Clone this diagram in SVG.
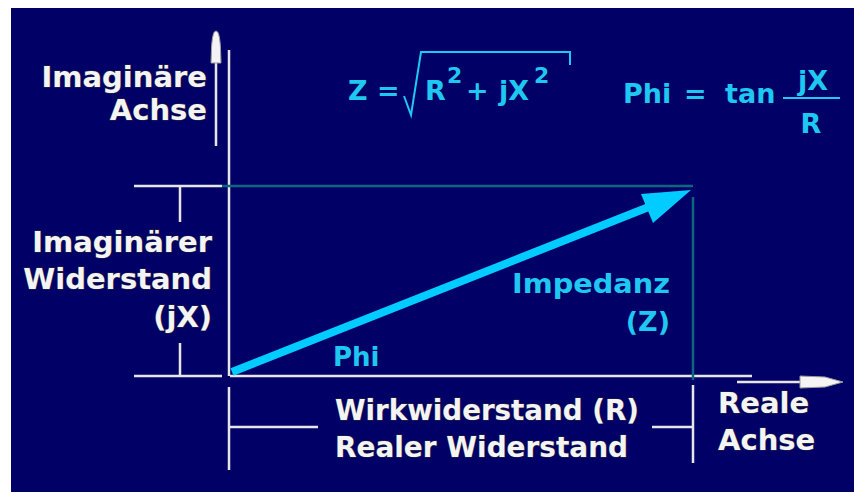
<svg xmlns="http://www.w3.org/2000/svg" width="854" height="492" viewBox="0 0 854 492">
<style>
.w{font-family:"DejaVu Sans","Liberation Sans",sans-serif;font-weight:bold;fill:#f4f4f4;stroke:#2a2a40;stroke-width:1.2;paint-order:stroke}
.c{font-family:"DejaVu Sans","Liberation Sans",sans-serif;font-weight:bold;fill:#1ec8f0}
.wl{stroke:#e6e6e6;stroke-width:2.5;fill:none}
.tl{stroke:#0b6680;stroke-width:2.5;fill:none}
.cl{stroke:#1ec8f0;stroke-width:2;fill:none}
</style>
<rect width="854" height="492" fill="#ffffff"/>
<rect x="11" y="8" width="843" height="484" fill="#000066"/>
<g id="connectors">
<line class="wl" x1="134" y1="186" x2="222" y2="186"/>
<line class="wl" x1="180" y1="187" x2="180" y2="222"/>
<line class="wl" x1="180" y1="343" x2="180" y2="376"/>
<line class="wl" x1="134" y1="376" x2="222" y2="376"/>
<line class="wl" x1="229" y1="50" x2="229" y2="376"/>
<line class="wl" x1="230" y1="376" x2="752" y2="376"/>
<line class="wl" x1="229" y1="387" x2="229" y2="470"/>
<line class="wl" x1="229" y1="427" x2="318" y2="427"/>
<line class="wl" x1="652" y1="427" x2="693" y2="427"/>
<line class="wl" x1="693" y1="385" x2="693" y2="463"/>
<line class="tl" x1="222" y1="186" x2="693" y2="186"/>
<line class="tl" x1="693" y1="197" x2="693" y2="380"/>
<g id="imag-axis-arrow">
<line class="wl" x1="216" y1="146" x2="216" y2="60"/>
<path d="M216 31 C219 31 220 40 220.5 48 L221 63 L211 63 L211.5 48 C212 40 213 31 216 31 Z" fill="#f4f4f4" stroke="#9a9a9a" stroke-width="1"/>
</g>
<g id="real-axis-arrow">
<line class="wl" x1="737" y1="382" x2="802" y2="382"/>
<path d="M843 382 L825 377 L800 376 L800 388 L825 387 Z" fill="#f4f4f4" stroke="#9a9a9a" stroke-width="1"/>
</g>
<g id="impedance-arrow">
<line x1="232" y1="372" x2="650" y2="206.5" stroke="#00ccff" stroke-width="8"/>
<polygon points="691,190 641,194 653,223" fill="#00ccff"/>
</g>
</g>
<g id="label-imag-axis">
<text class="w" x="207" y="87" font-size="29" text-anchor="end">Imaginäre</text>
<text class="w" x="207" y="120" font-size="29" text-anchor="end">Achse</text>
</g>
<g id="label-imag-resistance">
<text class="w" x="212" y="252" font-size="29" text-anchor="end">Imaginärer</text>
<text class="w" x="212" y="289" font-size="29" text-anchor="end">Widerstand</text>
<text class="w" x="212" y="327" font-size="29" text-anchor="end">(jX)</text>
</g>
<g id="label-real-resistance">
<text class="w" x="335" y="420" font-size="29" textLength="304" lengthAdjust="spacingAndGlyphs">Wirkwiderstand (R)</text>
<text class="w" x="335" y="457" font-size="29" textLength="293" lengthAdjust="spacingAndGlyphs">Realer Widerstand</text>
</g>
<g id="label-real-axis">
<text class="w" x="718" y="413" font-size="29">Reale</text>
<text class="w" x="718" y="450" font-size="29">Achse</text>
</g>
<g id="label-impedance">
<text class="c" x="512" y="293" font-size="27" textLength="158" lengthAdjust="spacingAndGlyphs">Impedanz</text>
<text class="c" x="670" y="331" font-size="27" text-anchor="end">(Z)</text>
</g>
<g id="label-phi">
<text class="c" x="333" y="366" font-size="26">Phi</text>
</g>
<g id="formula-z">
<text class="c" x="348" y="100" font-size="27">Z =</text>
<path class="cl" d="M404 96 L411 115 L421 52 L570 52 L570 65"/>
<text class="c" x="425" y="100" font-size="27">R</text>
<text class="c" x="447" y="83" font-size="22">2</text>
<text class="c" x="466" y="100" font-size="27">+</text>
<text class="c" x="499" y="100" font-size="27">jX</text>
<text class="c" x="534" y="83" font-size="22">2</text>
</g>
<g id="formula-phi">
<text class="c" x="623" y="103" font-size="27">Phi</text>
<text class="c" x="684" y="103" font-size="27">=</text>
<text class="c" x="725" y="103" font-size="27">tan</text>
<line class="cl" x1="783" y1="98" x2="840" y2="98" stroke-width="2.5"/>
<text class="c" x="813" y="90" font-size="27" text-anchor="middle">jX</text>
<text class="c" x="811" y="133" font-size="27" text-anchor="middle">R</text>
</g>
</svg>
